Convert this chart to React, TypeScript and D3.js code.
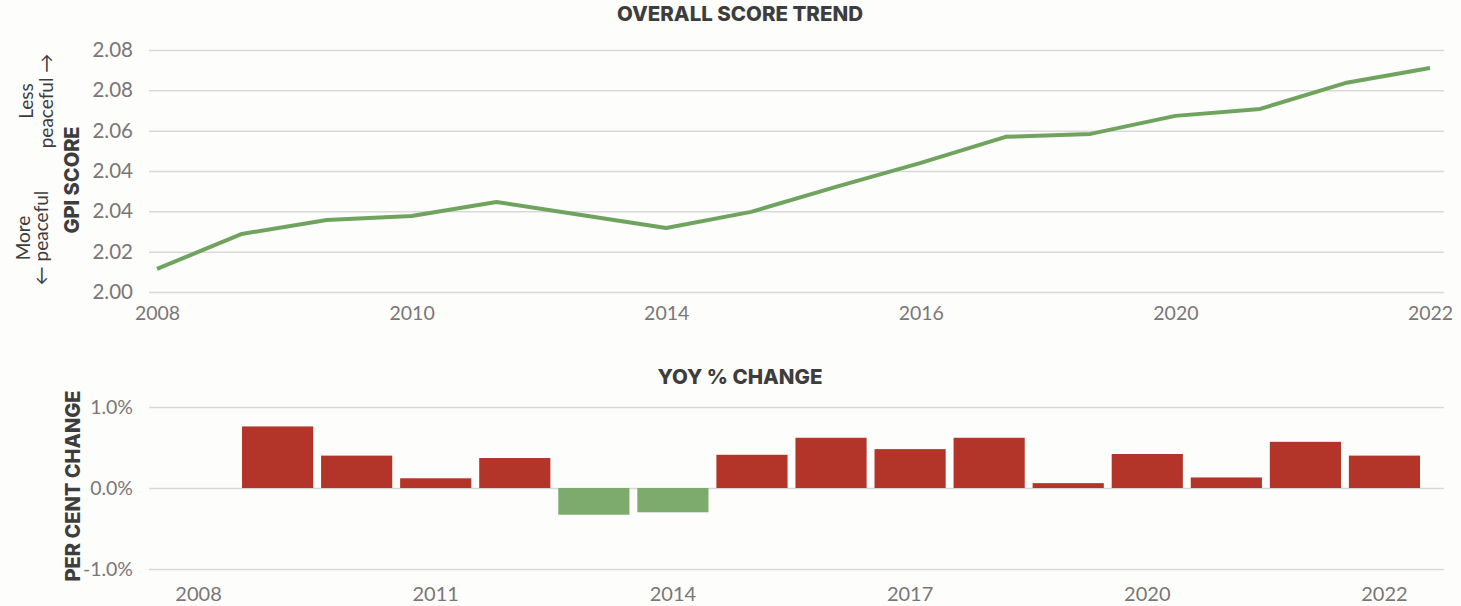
import { useEffect, useRef } from 'react';
import * as d3 from 'd3';

// GPI overall score, one point per year
const years = ['2008', '2009', '2010', '2011', '2012', '2013', '2014', '2015', '2016', '2017', '2018', '2019', '2020', '2021', '2022', '2023'];
const gpiScore = [2.0086, 2.0216, 2.0268, 2.0283, 2.0335, 2.0286, 2.0238, 2.0298, 2.0391, 2.048, 2.0577, 2.0588, 2.0655, 2.0681, 2.0777, 2.0833];
// year on year % change (first year has none)
const yoyChange = [null, 0.76, 0.4, 0.12, 0.37, -0.33, -0.3, 0.41, 0.62, 0.48, 0.62, 0.06, 0.42, 0.13, 0.57, 0.4];

const scoreTicks = [2.0, 2.015, 2.03, 2.045, 2.06, 2.075, 2.09];
const scoreTickLabels = ['2.00', '2.02', '2.04', '2.04', '2.06', '2.08', '2.08'];
const changeTicks = [-1, 0, 1];
const changeTickLabels = ['-1.0%', '0.0%', '1.0%'];
const yearTicks = ['2008', '2011', '2014', '2017', '2020', '2023'];
const trendYearLabels = ['2008', '2010', '2014', '2016', '2020', '2022'];
const changeYearLabels = ['2008', '2011', '2014', '2017', '2020', '2022'];

const FONT = 'Lato, "Open Sans", sans-serif';
const BOLD = 'Inter, Roboto, sans-serif';
const GREEN = '#6fa35e';
const RED = '#b33428';
const GREEN_BAR = '#7dab6d';
const GRID = '#d9d9d9';
const TICK = '#7a7676';
const DARK = '#3d3d3d';

export default function App() {
	const svgRef = useRef(null);

	useEffect(() => {
		const width = 1461;
		const height = 606;
		const svg = d3.select(svgRef.current);
		svg.selectAll('*').remove();
		svg.attr('width', width).attr('height', height).attr('viewBox', `0 0 ${width} ${height}`);

		svg.append('rect').attr('width', width).attr('height', height).attr('fill', '#fdfdfc');

		const gridLeft = 149;
		const gridRight = 1444;

		// ---------- top: overall score trend ----------
		const x = d3.scalePoint().domain(years).range([157, 1430]);
		const y = d3.scaleLinear().domain([2.0, 2.09]).range([292, 50]);

		const yAxis = svg
			.append('g')
			.attr('transform', `translate(${gridLeft},0)`)
			.call(
				d3
					.axisLeft(y)
					.tickValues(scoreTicks)
					.tickFormat((d, i) => scoreTickLabels[i])
					.tickSize(-(gridRight - gridLeft))
					.tickPadding(16)
			);
		yAxis.select('.domain').remove();
		yAxis.selectAll('line').attr('stroke', GRID).attr('stroke-width', 1.5);
		yAxis.selectAll('text').attr('font-family', FONT).attr('font-size', 20.5).attr('fill', TICK);

		const xAxis = svg
			.append('g')
			.attr('transform', 'translate(0,302)')
			.call(
				d3
					.axisBottom(x)
					.tickValues(yearTicks)
					.tickFormat((d, i) => trendYearLabels[i])
					.tickSize(0)
					.tickPadding(4)
			);
		xAxis.select('.domain').remove();
		xAxis.selectAll('text').attr('font-family', FONT).attr('font-size', 19.5).attr('fill', TICK);

		const line = d3
			.line()
			.x((d, i) => x(years[i]))
			.y((d) => y(d));

		svg
			.append('path')
			.datum(gpiScore)
			.attr('d', line)
			.attr('fill', 'none')
			.attr('stroke', GREEN)
			.attr('stroke-width', 4)
			.attr('stroke-linejoin', 'round');

		svg
			.append('text')
			.attr('x', 740)
			.attr('y', 21)
			.attr('text-anchor', 'middle')
			.attr('font-family', BOLD)
			.attr('font-weight', 800)
			.attr('font-size', 20.5)
			.attr('fill', DARK)
			.text('OVERALL SCORE TREND');

		svg
			.append('text')
			.attr('transform', 'translate(79,180) rotate(-90)')
			.attr('text-anchor', 'middle')
			.attr('font-family', BOLD)
			.attr('font-weight', 800)
			.attr('font-size', 20)
			.attr('fill', DARK)
			.text('GPI SCORE');

		// direction notes
		const less = svg
			.append('text')
			.attr('transform', 'translate(33,101) rotate(-90)')
			.attr('text-anchor', 'middle')
			.attr('font-family', FONT)
			.attr('font-size', 19)
			.attr('fill', DARK);
		less.append('tspan').attr('x', 0).attr('dy', 0).text('Less');
		less.append('tspan').attr('x', 0).attr('dy', 20).text('peaceful \u2192');

		const more = svg
			.append('text')
			.attr('transform', 'translate(30,238) rotate(-90)')
			.attr('text-anchor', 'middle')
			.attr('font-family', FONT)
			.attr('font-size', 19)
			.attr('fill', DARK);
		more.append('tspan').attr('x', 0).attr('dy', 0).text('More');
		more.append('tspan').attr('x', 0).attr('dy', 18).text('\u2190 peaceful');

		// ---------- bottom: yoy % change ----------
		const xb = d3.scaleBand().domain(years).range([159, 1424]).paddingInner(0.1).paddingOuter(0.05);
		const yb = d3.scaleLinear().domain([-1, 1]).range([569, 407]);

		const ybAxis = svg
			.append('g')
			.attr('transform', `translate(${gridLeft},0)`)
			.call(
				d3
					.axisLeft(yb)
					.tickValues(changeTicks)
					.tickFormat((d, i) => changeTickLabels[i])
					.tickSize(-(gridRight - gridLeft))
					.tickPadding(16)
			);
		ybAxis.select('.domain').remove();
		ybAxis.selectAll('line').attr('stroke', GRID).attr('stroke-width', 1.5);
		ybAxis.selectAll('text').attr('font-family', FONT).attr('font-size', 19.5).attr('fill', TICK);

		const xbAxis = svg
			.append('g')
			.attr('transform', 'translate(0,583)')
			.call(
				d3
					.axisBottom(xb)
					.tickValues(yearTicks)
					.tickFormat((d, i) => changeYearLabels[i])
					.tickSize(0)
					.tickPadding(4)
			);
		xbAxis.select('.domain').remove();
		xbAxis.selectAll('text').attr('font-family', FONT).attr('font-size', 20).attr('fill', TICK);

		const barData = years.map((yr, i) => ({ yr, v: yoyChange[i] })).filter((d) => d.v !== null);

		svg
			.append('g')
			.selectAll('rect')
			.data(barData)
			.join('rect')
			.attr('x', (d) => xb(d.yr))
			.attr('width', xb.bandwidth())
			.attr('y', (d) => yb(Math.max(0, d.v)))
			.attr('height', (d) => Math.abs(yb(d.v) - yb(0)))
			.attr('fill', (d) => (d.v >= 0 ? RED : GREEN_BAR));

		svg
			.append('text')
			.attr('x', 740)
			.attr('y', 384)
			.attr('text-anchor', 'middle')
			.attr('font-family', BOLD)
			.attr('font-weight', 800)
			.attr('font-size', 20.5)
			.attr('fill', DARK)
			.text('YOY % CHANGE');

		svg
			.append('text')
			.attr('transform', 'translate(80,486) rotate(-90)')
			.attr('text-anchor', 'middle')
			.attr('font-family', BOLD)
			.attr('font-weight', 800)
			.attr('font-size', 20)
			.attr('fill', DARK)
			.text('PER CENT CHANGE');

		return () => {
			svg.selectAll('*').remove();
		};
	}, []);

	return (
		<div style={{ position: 'absolute', left: 0, top: 0 }}>
			<svg ref={svgRef} style={{ display: 'block' }} />
		</div>
	);
}
